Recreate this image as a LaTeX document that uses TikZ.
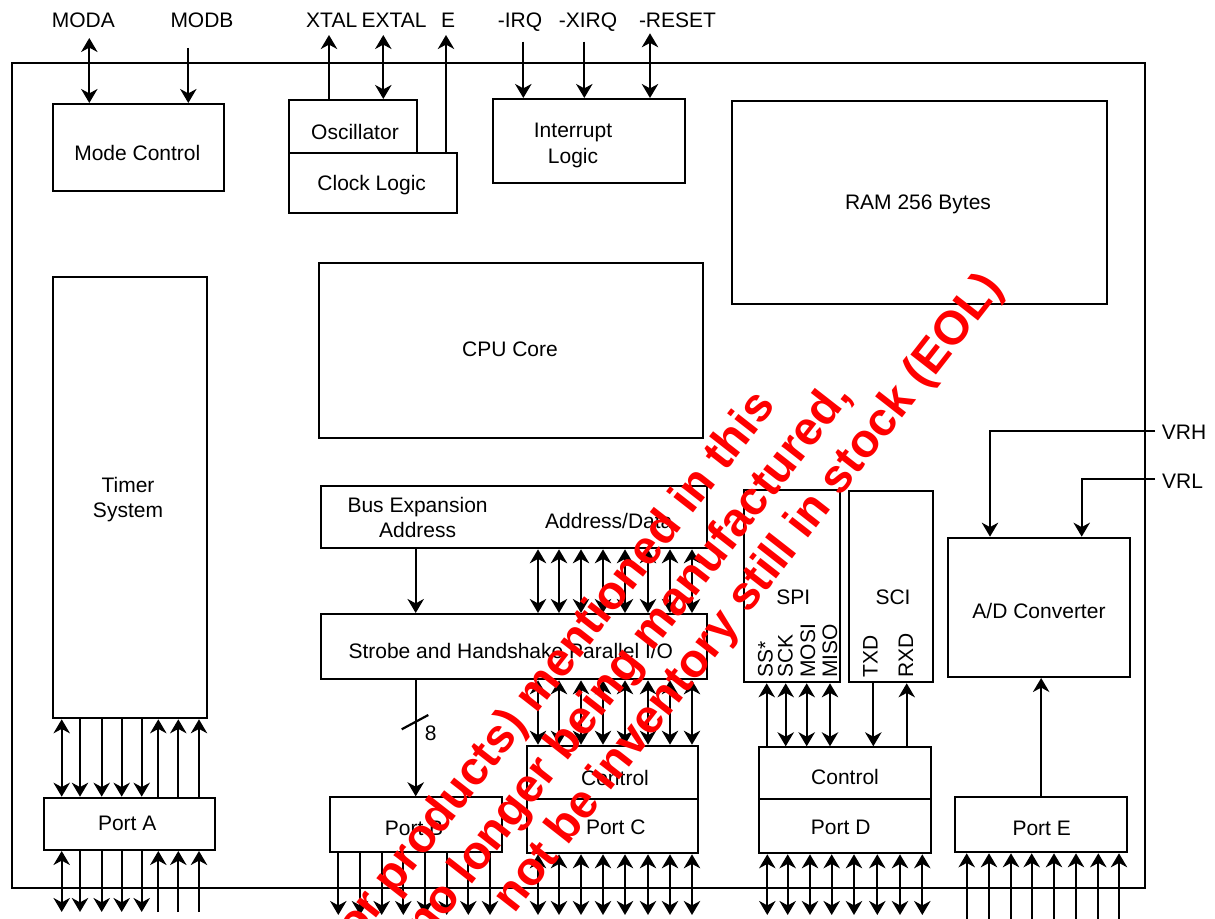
\documentclass[tikz,border=0pt]{standalone}
\usepackage{fontspec}
\setmainfont{Liberation Sans}
\usetikzlibrary{arrows.meta,fit}
\begin{document}
\begin{tikzpicture}[x=0.5pt,y=-0.5pt,
  every node/.style={font=\fontsize{10.5}{12.6}\selectfont, inner sep=0pt},
  blk/.style={draw, line width=1pt, inner sep=0pt},
  txt/.style={anchor=center, text height=7.5pt, text depth=0pt},
  txtm/.style={anchor=center, align=center},
  wire/.style={line width=1.1pt},
  >={Stealth[length=7pt,width=8.2pt,inset=2.2pt]},
  wm/.style={text=red, font=\fontsize{23.6}{26}\selectfont\bfseries, rotate=52, anchor=base east}]
\useasboundingbox (0,0) rectangle (1215,919);
% outer frame
\draw[line width=1pt] (11.7,62.7) rectangle (1145,888);
% blocks
\node[blk, fit={(53.3,104) (224,190.7)}] (mode) {};
\node[blk, fit={(289.3,100) (416.7,152.7)}] (osc) {};
\node[blk, fit={(289.3,152.7) (456.7,213.5)}] (clk) {};
\node[blk, fit={(492.7,99) (685,182.7)}] (intr) {};
\node[blk, fit={(732.3,101) (1107,304.3)}] (ram) {};
\node[blk, fit={(319,263) (703.3,438.3)}] (cpu) {};
\node[blk, fit={(53.3,277) (206.7,718.3)}] (timer) {};
\node[blk, fit={(321,485.7) (707.3,548.3)}] (bus) {};
\node[blk, fit={(321,614) (707.3,679.3)}] (strobe) {};
\node[blk, fit={(744,490) (840,682.3)}] (spi) {};
\node[blk, fit={(849,491) (933.3,682.3)}] (sci) {};
\node[blk, fit={(948.3,537.7) (1130,677)}] (ad) {};
\node[blk, fit={(44,797.7) (215,850)}] (porta) {};
\node[blk, fit={(330,797.3) (502.3,852.3)}] (portb) {};
\node[blk, fit={(526.7,745.7) (698.3,799)}] (ctlc) {};
\node[blk, fit={(526.7,799) (698.3,853.3)}] (portc) {};
\node[blk, fit={(759,747.3) (930.7,799)}] (ctld) {};
\node[blk, fit={(759,799) (930.7,853.3)}] (portd) {};
\node[blk, fit={(955,797.3) (1127.3,852.3)}] (porte) {};
% block texts
\node[txt] (tmode) at (137.3,153.3) {Mode Control};
\node[txt] (tosc) at (355,131.7) {Oscillator};
\node[txt] (tclk) at (371.7,183.3) {Clock Logic};
\node[txtm] (tintr) at (573,145.5) {Interrupt\\Logic};
\node[txt] (tram) at (918,202) {RAM 256 Bytes};
\node[txt] (tcpu) at (510,349) {CPU Core};
\node[txtm] (ttimer) at (128,499.5) {Timer\\System};
\node[txtm] (tbus) at (417.6,517.5) {Bus Expansion\\Address};
\node[txt] (tad1) at (608.8,520.7) {Address/Data};
\node[txt] (tstrobe) at (510.8,651) {Strobe and Handshake Parallel I/O};
\node[txt] (tspi) at (793.3,596.7) {SPI};
\node[txt] (tsci) at (893,596.7) {SCI};
\node[txt] (tad) at (1039,611) {A/D Converter};
\node[txt] (tporta) at (127.2,823.3) {Port A};
\node[txt] (tportb) at (414,828) {Port B};
\node[txt] (tctlc) at (615,777.7) {Control};
\node[txt] (tportc) at (615.8,826.7) {Port C};
\node[txt] (tctld) at (845,776.7) {Control};
\node[txt] (tportd) at (840.7,826.7) {Port D};
\node[txt] (tporte) at (1041.7,828.3) {Port E};
% rotated pin labels
\node[txt, anchor=west, rotate=90] (tss) at (765,678) {SS*};
\node[txt, anchor=west, rotate=90] (tsck) at (785,678) {SCK};
\node[txt, anchor=west, rotate=90] (tmosi) at (807.5,678) {MOSI};
\node[txt, anchor=west, rotate=90] (tmiso) at (829.5,678) {MISO};
\node[txt, anchor=west, rotate=90] (ttxd) at (870,678) {TXD};
\node[txt, anchor=west, rotate=90] (trxd) at (905.5,678) {RXD};
% external labels
\node[txt] (lmoda) at (83.3,20.5) {MODA};
\node[txt] (lmodb) at (202,20.5) {MODB};
\node[txt] (lxtal) at (331.7,20.5) {XTAL};
\node[txt] (lextal) at (394,20.5) {EXTAL};
\node[txt] (le) at (448,20.5) {E};
\node[txt] (lirq) at (520,20.5) {-IRQ};
\node[txt] (lxirq) at (588,20.5) {-XIRQ};
\node[txt] (lreset) at (677.5,20.5) {-RESET};
\node[txt] (lvrh) at (1184,431.7) {VRH};
\node[txt] (lvrl) at (1182.5,481) {VRL};
% top pins
\coordinate (pmoda) at (89.3,38);
\coordinate (pmodb) at (188.3,48);
\coordinate (pxtal) at (329,35);
\coordinate (pextal) at (383.3,35);
\coordinate (pe) at (446,35);
\coordinate (pirq) at (523.3,41.7);
\coordinate (pxirq) at (584.3,41.7);
\coordinate (preset) at (650,33.3);
\draw[wire,<->] (pmoda) -- (mode.north -| pmoda);
\draw[wire,->] (pmodb) -- (mode.north -| pmodb);
\draw[wire,->] (osc.north -| pxtal) -- (pxtal);
\draw[wire,<->] (pextal) -- (osc.north -| pextal);
\draw[wire,->] (clk.north -| pe) -- (pe);
\draw[wire,->] (pirq) -- (intr.north -| pirq);
\draw[wire,->] (pxirq) -- (intr.north -| pxirq);
\draw[wire,<->] (preset) -- (intr.north -| preset);
% bus / strobe / port C
\foreach \x [count=\i] in {538,559,581,603,625,648,670,692}{
  \coordinate (bx\i) at (\x,0);
  \coordinate (pc\i) at (\x,915);
  \draw[wire,<->] (bus.south -| bx\i) -- (strobe.north -| bx\i);
  \draw[wire,<->] (strobe.south -| bx\i) -- (ctlc.north -| bx\i);
  \draw[wire,<->] (portc.south -| pc\i) -- (pc\i);
}
\coordinate (bb) at (415.7,0);
\draw[wire,->] (bus.south -| bb) -- (strobe.north -| bb);
\draw[wire,->] (strobe.south -| bb) -- (portb.north -| bb);
\draw[wire] (401.7,729.3) -- (428.3,715);
\node[txt] (l8) at (430.7,732.7) {8};
% port B outputs
\foreach \x [count=\i] in {338.3,360,381.7,403.3,425,446.7,468.3,490}{
  \coordinate (pb\i) at (\x,915);
  \draw[wire,->] (portb.south -| pb\i) -- (pb\i);
}
% port D
\foreach \x [count=\i] in {767.3,787.7,810,831.7,854,877.3,900,922.3}{
  \coordinate (pd\i) at (\x,915);
  \draw[wire,<->] (portd.south -| pd\i) -- (pd\i);
}
% port E
\foreach \x [count=\i] in {966.7,989,1011,1031.7,1054,1076,1098.3,1119}{
  \coordinate (pe\i) at (\x,919);
  \draw[wire,->] (pe\i) -- (porte.south -| pe\i);
}
\draw[wire,->] (porte.north) -- (ad.south -| porte.north);
% SPI / SCI
\coordinate (sss) at (766.7,0);
\coordinate (ssck) at (785.7,0);
\coordinate (smosi) at (806.7,0);
\coordinate (smiso) at (830,0);
\coordinate (stxd) at (873.3,0);
\coordinate (srxd) at (906.7,0);
\draw[wire,->] (ctld.north -| sss) -- (spi.south -| sss);
\draw[wire,<->] (ctld.north -| ssck) -- (spi.south -| ssck);
\draw[wire,<->] (ctld.north -| smosi) -- (spi.south -| smosi);
\draw[wire,<->] (ctld.north -| smiso) -- (spi.south -| smiso);
\draw[wire,->] (sci.south -| stxd) -- (ctld.north -| stxd);
\draw[wire,->] (ctld.north -| srxd) -- (sci.south -| srxd);
% VRH / VRL
\coordinate (pvrh) at (1155,430.7);
\coordinate (pvrl) at (1155,479);
\coordinate (xvrh) at (990,0);
\coordinate (xvrl) at (1081.7,0);
\draw[wire,->] (pvrh) -| (ad.north -| xvrh);
\draw[wire,->] (pvrl) -| (ad.north -| xvrl);
% port A
\foreach \x [count=\i] in {61.7,80,101.7,121.7,141.7,158.3,178.3,199}{
  \coordinate (pa\i) at (\x,912);
}
\draw[wire,<->] (timer.south -| pa1) -- (porta.north -| pa1);
\foreach \i in {2,...,5} {\draw[wire,->] (timer.south -| pa\i) -- (porta.north -| pa\i);}
\foreach \i in {6,7,8} {\draw[wire,->] (porta.north -| pa\i) -- (timer.south -| pa\i);}
\draw[wire,<->] (porta.south -| pa1) -- (pa1);
\foreach \i in {2,...,5} {\draw[wire,->] (porta.south -| pa\i) -- (pa\i);}
\foreach \i in {6,7,8} {\draw[wire,->] (pa\i) -- (porta.south -| pa\i);}
% watermark
\node[wm] (wm1) at (777,406) {(or products) mentioned in this};
\node[wm] (wm2) at (853,396) {no longer being manufactured,};
\node[wm] (wm3) at (1004,288) {not be inventory still in stock (EOL)};
\end{tikzpicture}
\end{document}
